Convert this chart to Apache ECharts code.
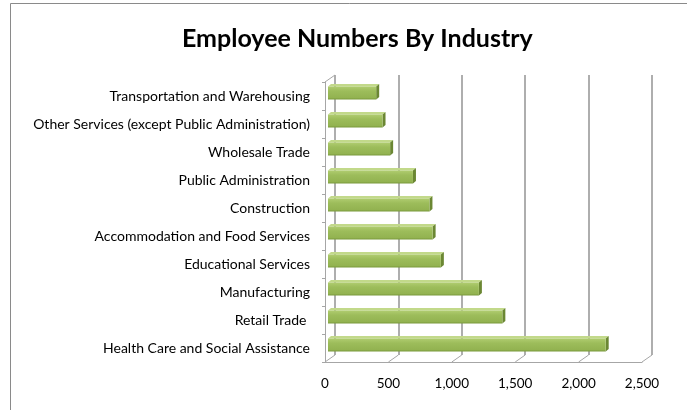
<!DOCTYPE html>
<html>
<head>
<meta charset="utf-8">
<script src="https://cdn.jsdelivr.net/npm/echarts@6/dist/echarts.min.js"></script>
<style>html,body{margin:0;padding:0;background:#fff;}#c{width:687px;height:410px;}</style>
</head>
<body>
<div id="c"></div>
<script>
const categories = ['Health Care and Social Assistance','Retail Trade ','Manufacturing','Educational Services','Accommodation and Food Services','Construction','Public Administration','Wholesale Trade','Other Services (except Public Administration)','Transportation and Warehousing'];
const employees = [2190, 1375, 1190, 890, 825, 800, 670, 490, 430, 380];
const xMax = 2500;
const xInterval = 500;
const xTicks = [0, 500, 1000, 1500, 2000, 2500];

const FONT = 'Lato';
const chart = echarts.init(document.getElementById('c'));

const catAxisBase = { type: 'category', data: categories };
const valAxisBase = { type: 'value', min: 0, max: xMax, interval: xInterval };

chart.setOption({
  animation: false,
  title: {
    text: 'Employee Numbers By Industry',
    left: 177, top: 21,
    textStyle: { fontFamily: FONT, fontWeight: 'bold', fontSize: 25, color: '#000' }
  },
  graphic: [{
    type: 'rect', left: 8, top: 1, shape: { width: 700, height: 430 },
    style: { fill: 'none', stroke: '#8a8a8a', lineWidth: 1 }, silent: true
  }],
  grid: [
    { left: 325, width: 317, top: 82, height: 280 },   // front plane
    { left: 335, width: 317, top: 75, height: 280 },   // back wall
    { left: 328, width: 317, top: 79, height: 280 }    // bars
  ],
  xAxis: [
    Object.assign({}, valAxisBase, {
      gridIndex: 0,
      axisLine: { show: true, lineStyle: { color: '#a6a6a6', width: 1 } },
      axisTick: { show: false },
      splitLine: { show: false },
      axisLabel: {
        margin: 15, fontFamily: FONT, fontSize: 13.5, color: '#000',
        formatter: v => v.toLocaleString('en-US')
      }
    }),
    Object.assign({}, valAxisBase, {
      gridIndex: 1,
      axisLine: { show: false }, axisTick: { show: false }, axisLabel: { show: false },
      splitLine: { show: true, lineStyle: { color: '#9a9a9a', width: 1.6 } }
    }),
    Object.assign({}, valAxisBase, {
      gridIndex: 2, show: false
    })
  ],
  yAxis: [
    Object.assign({}, catAxisBase, {
      gridIndex: 0,
      axisLine: { show: true, lineStyle: { color: '#a6a6a6', width: 1 } },
      axisTick: { show: true, length: 3, lineStyle: { color: '#a6a6a6' } },
      splitLine: { show: false },
      axisLabel: { margin: 15, fontFamily: FONT, fontSize: 14, color: '#000' }
    }),
    Object.assign({}, catAxisBase, { gridIndex: 1, show: false }),
    Object.assign({}, catAxisBase, { gridIndex: 2, show: false })
  ],
  series: [
    {
      type: 'custom',
      xAxisIndex: 0, yAxisIndex: 0,
      silent: true,
      data: xTicks.map(v => [v, 0]),
      encode: { x: 0, y: 1 },
      renderItem: function (params, api) {
        const v = api.value(0);
        const p = api.coord([v, 0]);
        const band = api.size([0, 1])[1];
        const y0 = p[1] + band / 2;
        const children = [{
          type: 'line',
          shape: { x1: p[0], y1: y0, x2: p[0] + 10, y2: y0 - 7 },
          style: { stroke: '#a6a6a6', lineWidth: 1 }
        }];
        if (v === 0) {
          const t = api.coord([0, categories.length - 1]);
          const yt = t[1] - band / 2;
          children.push({
            type: 'line',
            shape: { x1: p[0], y1: yt, x2: p[0] + 10, y2: yt - 7 },
            style: { stroke: '#a6a6a6', lineWidth: 1 }
          });
        }
        return { type: 'group', children: children };
      }
    },
    {
      type: 'custom',
      xAxisIndex: 2, yAxisIndex: 2,
      data: employees.map((v, i) => [v, i]),
      encode: { x: 0, y: 1 },
      renderItem: function (params, api) {
        const base = api.coord([0, api.value(1)]);
        const end = api.coord([api.value(0), api.value(1)]);
        const h = 13, dx = 3, dy = -2.5;
        const x = base[0], w = end[0] - base[0], y = end[1] - h / 2;
        return {
          type: 'group',
          children: [
            {
              type: 'polygon',
              shape: { points: [[x, y], [x + dx, y + dy], [x + w + dx, y + dy], [x + w, y]] },
              style: { fill: '#c2d98a' }
            },
            {
              type: 'polygon',
              shape: { points: [[x + w, y], [x + w + dx, y + dy], [x + w + dx, y + dy + h], [x + w, y + h]] },
              style: { fill: '#6b8733' }
            },
            {
              type: 'rect',
              shape: { x: x, y: y, width: w, height: h },
              style: {
                fill: new echarts.graphic.LinearGradient(0, 0, 0, 1, [
                  { offset: 0, color: '#b0cc70' },
                  { offset: 0.35, color: '#9dbd5b' },
                  { offset: 0.85, color: '#93b351' },
                  { offset: 1, color: '#7a9a3c' }
                ])
              }
            }
          ]
        };
      }
    }
  ]
});
</script>
</body>
</html>
